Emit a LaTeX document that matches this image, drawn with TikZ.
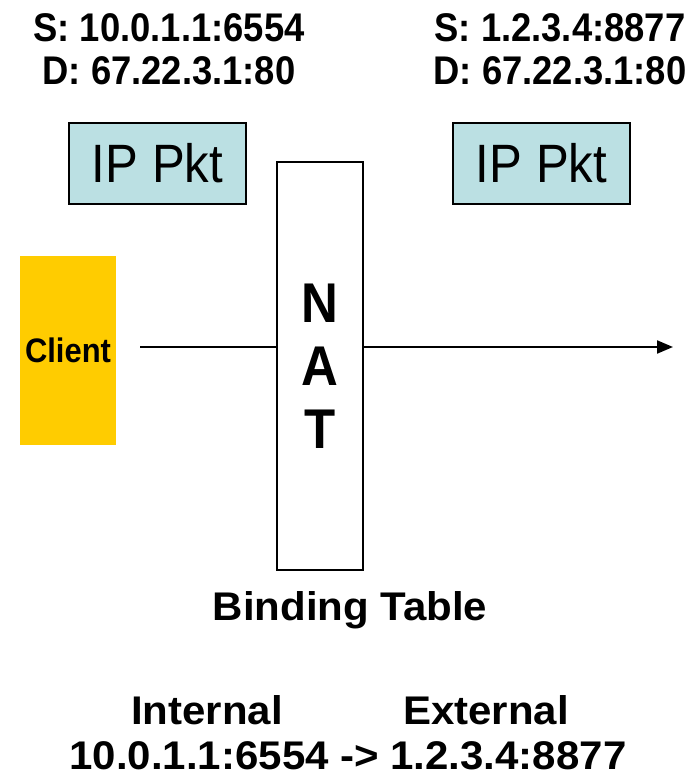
\documentclass[tikz,border=0pt]{standalone}
\usepackage{fontspec}
\setmainfont{Liberation Sans}
\newfontfamily\narrowfont[FakeStretch=0.91]{Liberation Sans}
\newfontfamily\widefont[FakeStretch=1.05]{Liberation Sans}
\usetikzlibrary{positioning,arrows.meta}
\definecolor{clientgold}{RGB}{255,204,0}
\definecolor{pktblue}{RGB}{187,224,227}
\newcommand{\sz}[2]{\fontsize{#1}{#2}\selectfont}

\begin{document}
\begin{tikzpicture}[x=1pt,y=-1pt,
    pkt/.style={draw,line width=1.5pt,fill=pktblue,minimum width=177pt,minimum height=81pt,
      inner sep=0pt,font=\narrowfont\sz{54}{60}},
    addr/.style={inner sep=0pt,align=center,anchor=north,font=\narrowfont\bfseries\sz{40}{43}},
    tab/.style={inner sep=0pt,anchor=base,font=\widefont\bfseries\sz{40}{40}}]
    \useasboundingbox (0,0) rectangle (696,778);

    % addresses above the packets
    \node[addr] (srcL) at (169,13) {S: 10.0.1.1:6554\\D: 67.22.3.1:80};
    \node[addr] (srcR) at (560,13) {S: 1.2.3.4:8877\\D: 67.22.3.1:80};
    \node[pkt] (pktL) at (157.5,163.5) {IP Pkt};
    \node[pkt] (pktR) at (541.5,163.5) {IP Pkt};

    % client and NAT box
    \node[fill=clientgold,minimum width=96pt,minimum height=189pt,inner sep=0pt,
      font=\narrowfont\bfseries\sz{34}{34}] (client) at (68,350.5) {Client};
    \node[draw,line width=1.5pt,minimum width=86pt,minimum height=408pt,inner sep=0pt,
      align=center,font=\narrowfont\bfseries\sz{56}{63}] (nat) at (320,366) {N\\A\\T};

    \coordinate (cin) at (140,347);
    \coordinate (cout) at (673,347);
    \draw[line width=2pt] (cin) -- (cin -| nat.west);
    \draw[line width=2pt,-{Triangle[length=16pt,width=13pt]}] (nat.east |- cout) -- (cout);

    % binding table
    \node[tab] (bind) at (350,620) {Binding Table};
    \node[tab] (inner) at (207,724) {Internal};
    \node[tab] (outer) at (486,724) {External};
    \node[tab] (map) at (348,769) {10.0.1.1:6554 -> 1.2.3.4:8877};
\end{tikzpicture}
\end{document}
